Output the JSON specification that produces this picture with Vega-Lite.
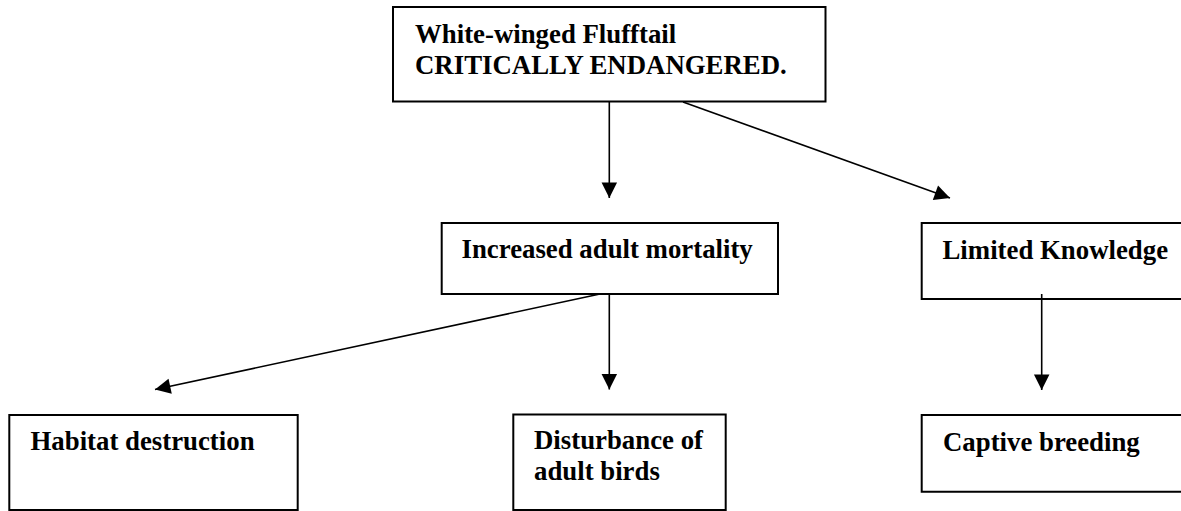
{
  "$schema": "https://vega.github.io/schema/vega-lite/v6.json",
  "width": 1181,
  "height": 511,
  "padding": 0,
  "autosize": {"type": "fit", "contains": "padding"},
  "background": "white",
  "config": {"view": {"stroke": null}},
  "datasets": {
    "boxes": [
      {"x1": 393, "x2": 825.5, "y1": 7, "y2": 101.5, "tx": 415, "ty": 43, "label": "White-winged Flufftail\nCRITICALLY ENDANGERED."},
      {"x1": 441.7, "x2": 778, "y1": 223, "y2": 294, "tx": 461.5, "ty": 258, "label": "Increased adult mortality"},
      {"x1": 921.7, "x2": 1195, "y1": 223, "y2": 299, "tx": 942.5, "ty": 259, "label": "Limited Knowledge"},
      {"x1": 9.3, "x2": 297.7, "y1": 415, "y2": 510, "tx": 30.5, "ty": 450, "label": "Habitat destruction"},
      {"x1": 513.3, "x2": 725.7, "y1": 414.5, "y2": 510, "tx": 534, "ty": 449, "label": "Disturbance of\nadult birds"},
      {"x1": 921.7, "x2": 1195, "y1": 415, "y2": 491.7, "tx": 943, "ty": 451, "label": "Captive breeding"}
    ],
    "edges": [
      {"x1": 609.3, "y1": 102, "x2": 609.3, "y2": 198},
      {"x1": 683, "y1": 102, "x2": 950, "y2": 198},
      {"x1": 600, "y1": 294, "x2": 155, "y2": 389.5},
      {"x1": 609.3, "y1": 294, "x2": 609.3, "y2": 389.5},
      {"x1": 1041.7, "y1": 294, "x2": 1041.7, "y2": 390}
    ]
  },
  "layer": [
    {
      "data": {"name": "boxes"},
      "mark": {"type": "rect", "fill": "white", "stroke": "black", "strokeWidth": 2, "clip": true},
      "encoding": {
        "x": {"field": "x1", "type": "quantitative", "scale": {"domain": [0, 1181], "nice": false, "zero": false}, "axis": null},
        "x2": {"field": "x2"},
        "y": {"field": "y1", "type": "quantitative", "scale": {"domain": [0, 511], "nice": false, "zero": false, "reverse": true}, "axis": null},
        "y2": {"field": "y2"}
      }
    },
    {
      "data": {"name": "boxes"},
      "mark": {"type": "text", "align": "left", "baseline": "alphabetic", "font": "Liberation Serif", "fontWeight": "bold", "fontSize": 26.8, "lineHeight": 31, "lineBreak": "\n", "color": "black"},
      "encoding": {
        "x": {"field": "tx", "type": "quantitative"},
        "y": {"field": "ty", "type": "quantitative"},
        "text": {"field": "label", "type": "nominal"}
      }
    },
    {
      "data": {"name": "edges"},
      "mark": {"type": "rule", "color": "black", "strokeWidth": 1.6},
      "encoding": {
        "x": {"field": "x1", "type": "quantitative"},
        "y": {"field": "y1", "type": "quantitative"},
        "x2": {"field": "x2"},
        "y2": {"field": "y2"}
      }
    },
    {
      "data": {"name": "edges"},
      "transform": [
        {"calculate": "atan2(-(datum.x2 - datum.x1), datum.y2 - datum.y1) * 180 / PI", "as": "dir"}
      ],
      "mark": {"type": "point", "shape": "M0,0L-0.5,-1L0.5,-1Z", "filled": true, "color": "black", "opacity": 1, "size": 960, "strokeWidth": 0},
      "encoding": {
        "x": {"field": "x2", "type": "quantitative"},
        "y": {"field": "y2", "type": "quantitative"},
        "angle": {"field": "dir", "type": "quantitative", "scale": null}
      }
    }
  ]
}
